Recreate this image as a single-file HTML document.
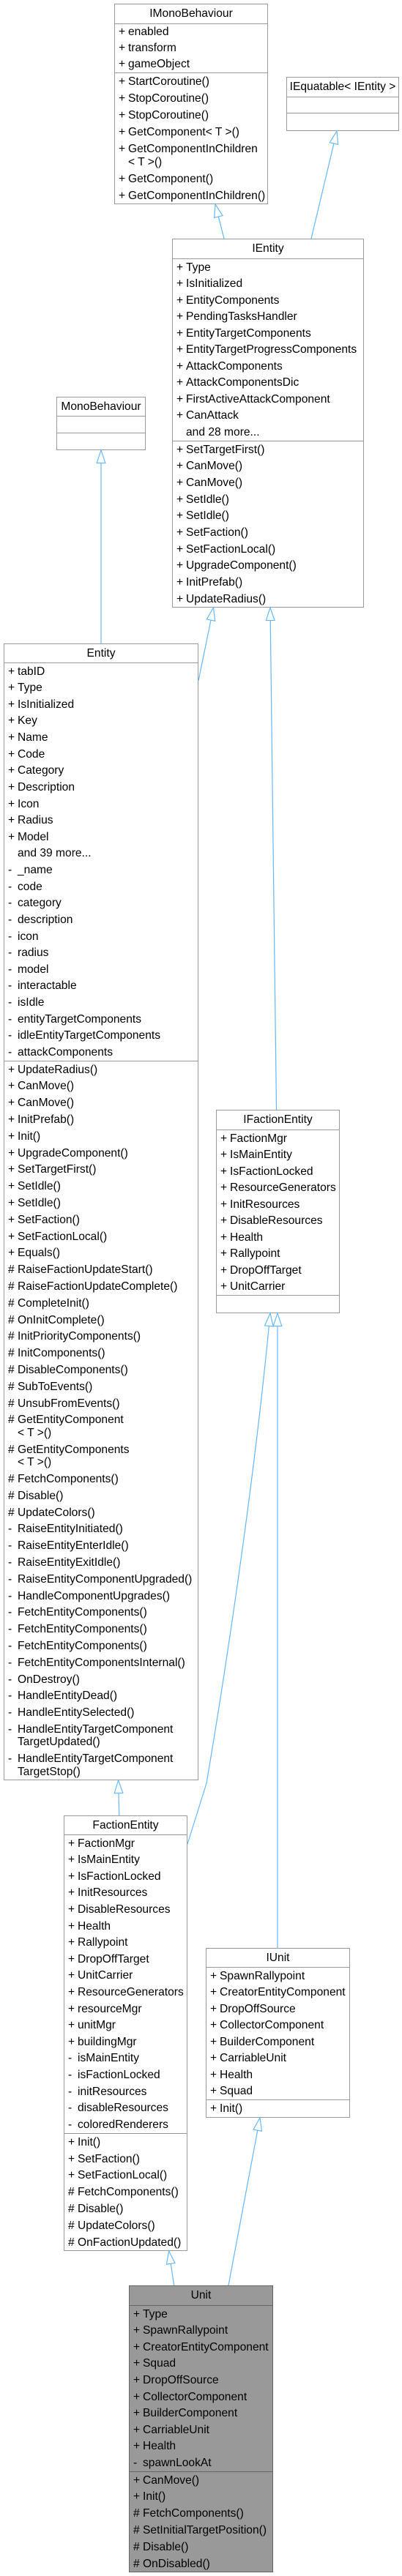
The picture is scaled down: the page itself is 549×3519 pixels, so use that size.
<!DOCTYPE html>
<html><head><meta charset="utf-8"><style>
*{margin:0;padding:0;box-sizing:border-box}
body{width:549px;height:3519px;background:#fff;position:relative;overflow:hidden;font-family:"Liberation Sans",Arial,sans-serif;font-size:15.6px;color:#000}
.box{position:absolute;border:1px solid #999;background:#fff}
.sec{position:absolute;left:0;right:0;display:flex;flex-direction:column;justify-content:space-around}
.sec+.sec{border-top:1px solid #999}
.t{text-align:center;justify-content:center}
.r{position:relative;line-height:17.5px;padding-left:18px;white-space:nowrap}
.r b{position:absolute;left:5px;top:0;font-weight:normal}
.unit{background:#999;border-color:#666}
.unit .sec+.sec{border-top-color:#666}
svg{position:absolute;left:0;top:0}
</style></head><body>

<div class="box" style="left:156px;top:5px;width:210px;height:274px">
<div class="sec t" style="top:0;height:26px">IMonoBehaviour</div>
<div class="sec" style="top:26px;height:67px"><div class="r"><b>+</b>enabled</div><div class="r"><b>+</b>transform</div><div class="r"><b>+</b>gameObject</div></div>
<div class="sec" style="top:93px;height:180px"><div class="r"><b>+</b>StartCoroutine()</div><div class="r"><b>+</b>StopCoroutine()</div><div class="r"><b>+</b>StopCoroutine()</div><div class="r"><b>+</b>GetComponent&lt; T &gt;()</div><div class="r"><b>+</b>GetComponentInChildren<br>&lt; T &gt;()</div><div class="r"><b>+</b>GetComponent()</div><div class="r"><b>+</b>GetComponentInChildren()</div></div>
</div>

<div class="box" style="left:391px;top:105px;width:154px;height:74px">
<div class="sec t" style="top:0;height:26px">IEquatable&lt; IEntity &gt;</div>
<div class="sec" style="top:26px;height:22px"></div>
<div class="sec" style="top:48px;height:25px"></div>
</div>

<div class="box" style="left:235px;top:326px;width:262px;height:504px">
<div class="sec t" style="top:0;height:26px">IEntity</div>
<div class="sec" style="top:26px;height:249px"><div class="r"><b>+</b>Type</div><div class="r"><b>+</b>IsInitialized</div><div class="r"><b>+</b>EntityComponents</div><div class="r"><b>+</b>PendingTasksHandler</div><div class="r"><b>+</b>EntityTargetComponents</div><div class="r"><b>+</b>EntityTargetProgressComponents</div><div class="r"><b>+</b>AttackComponents</div><div class="r"><b>+</b>AttackComponentsDic</div><div class="r"><b>+</b>FirstActiveAttackComponent</div><div class="r"><b>+</b>CanAttack</div><div class="r">and 28 more...</div></div>
<div class="sec" style="top:275px;height:228px"><div class="r"><b>+</b>SetTargetFirst()</div><div class="r"><b>+</b>CanMove()</div><div class="r"><b>+</b>CanMove()</div><div class="r"><b>+</b>SetIdle()</div><div class="r"><b>+</b>SetIdle()</div><div class="r"><b>+</b>SetFaction()</div><div class="r"><b>+</b>SetFactionLocal()</div><div class="r"><b>+</b>UpgradeComponent()</div><div class="r"><b>+</b>InitPrefab()</div><div class="r"><b>+</b>UpdateRadius()</div></div>
</div>

<div class="box" style="left:77px;top:542px;width:122px;height:73px">
<div class="sec t" style="top:0;height:25px">MonoBehaviour</div>
<div class="sec" style="top:25px;height:23px"></div>
<div class="sec" style="top:48px;height:24px"></div>
</div>

<div class="box" style="left:5px;top:879px;width:266px;height:1553px">
<div class="sec t" style="top:0;height:25px">Entity</div>
<div class="sec" style="top:25px;height:544px"><div class="r"><b>+</b>tabID</div><div class="r"><b>+</b>Type</div><div class="r"><b>+</b>IsInitialized</div><div class="r"><b>+</b>Key</div><div class="r"><b>+</b>Name</div><div class="r"><b>+</b>Code</div><div class="r"><b>+</b>Category</div><div class="r"><b>+</b>Description</div><div class="r"><b>+</b>Icon</div><div class="r"><b>+</b>Radius</div><div class="r"><b>+</b>Model</div><div class="r">and 39 more...</div><div class="r"><b>-</b>_name</div><div class="r"><b>-</b>code</div><div class="r"><b>-</b>category</div><div class="r"><b>-</b>description</div><div class="r"><b>-</b>icon</div><div class="r"><b>-</b>radius</div><div class="r"><b>-</b>model</div><div class="r"><b>-</b>interactable</div><div class="r"><b>-</b>isIdle</div><div class="r"><b>-</b>entityTargetComponents</div><div class="r"><b>-</b>idleEntityTargetComponents</div><div class="r"><b>-</b>attackComponents</div></div>
<div class="sec" style="top:569px;height:983px">
<div class="r"><b>+</b>UpdateRadius()</div><div class="r"><b>+</b>CanMove()</div><div class="r"><b>+</b>CanMove()</div><div class="r"><b>+</b>InitPrefab()</div><div class="r"><b>+</b>Init()</div><div class="r"><b>+</b>UpgradeComponent()</div><div class="r"><b>+</b>SetTargetFirst()</div><div class="r"><b>+</b>SetIdle()</div><div class="r"><b>+</b>SetIdle()</div><div class="r"><b>+</b>SetFaction()</div><div class="r"><b>+</b>SetFactionLocal()</div><div class="r"><b>+</b>Equals()</div>
<div class="r"><b>#</b>RaiseFactionUpdateStart()</div><div class="r"><b>#</b>RaiseFactionUpdateComplete()</div><div class="r"><b>#</b>CompleteInit()</div><div class="r"><b>#</b>OnInitComplete()</div><div class="r"><b>#</b>InitPriorityComponents()</div><div class="r"><b>#</b>InitComponents()</div><div class="r"><b>#</b>DisableComponents()</div><div class="r"><b>#</b>SubToEvents()</div><div class="r"><b>#</b>UnsubFromEvents()</div><div class="r"><b>#</b>GetEntityComponent<br>&lt; T &gt;()</div><div class="r"><b>#</b>GetEntityComponents<br>&lt; T &gt;()</div><div class="r"><b>#</b>FetchComponents()</div><div class="r"><b>#</b>Disable()</div><div class="r"><b>#</b>UpdateColors()</div>
<div class="r"><b>-</b>RaiseEntityInitiated()</div><div class="r"><b>-</b>RaiseEntityEnterIdle()</div><div class="r"><b>-</b>RaiseEntityExitIdle()</div><div class="r"><b>-</b>RaiseEntityComponentUpgraded()</div><div class="r"><b>-</b>HandleComponentUpgrades()</div><div class="r"><b>-</b>FetchEntityComponents()</div><div class="r"><b>-</b>FetchEntityComponents()</div><div class="r"><b>-</b>FetchEntityComponents()</div><div class="r"><b>-</b>FetchEntityComponentsInternal()</div><div class="r"><b>-</b>OnDestroy()</div><div class="r"><b>-</b>HandleEntityDead()</div><div class="r"><b>-</b>HandleEntitySelected()</div><div class="r"><b>-</b>HandleEntityTargetComponent<br>TargetUpdated()</div><div class="r"><b>-</b>HandleEntityTargetComponent<br>TargetStop()</div>
</div>
</div>

<div class="box" style="left:295px;top:1516px;width:169px;height:278px">
<div class="sec t" style="top:0;height:26px">IFactionEntity</div>
<div class="sec" style="top:26px;height:226px"><div class="r"><b>+</b>FactionMgr</div><div class="r"><b>+</b>IsMainEntity</div><div class="r"><b>+</b>IsFactionLocked</div><div class="r"><b>+</b>ResourceGenerators</div><div class="r"><b>+</b>InitResources</div><div class="r"><b>+</b>DisableResources</div><div class="r"><b>+</b>Health</div><div class="r"><b>+</b>Rallypoint</div><div class="r"><b>+</b>DropOffTarget</div><div class="r"><b>+</b>UnitCarrier</div></div>
<div class="sec" style="top:252px;height:25px"></div>
</div>

<div class="box" style="left:87px;top:2480px;width:169px;height:595px">
<div class="sec t" style="top:0;height:25px">FactionEntity</div>
<div class="sec" style="top:25px;height:408px"><div class="r"><b>+</b>FactionMgr</div><div class="r"><b>+</b>IsMainEntity</div><div class="r"><b>+</b>IsFactionLocked</div><div class="r"><b>+</b>InitResources</div><div class="r"><b>+</b>DisableResources</div><div class="r"><b>+</b>Health</div><div class="r"><b>+</b>Rallypoint</div><div class="r"><b>+</b>DropOffTarget</div><div class="r"><b>+</b>UnitCarrier</div><div class="r"><b>+</b>ResourceGenerators</div><div class="r"><b>+</b>resourceMgr</div><div class="r"><b>+</b>unitMgr</div><div class="r"><b>+</b>buildingMgr</div><div class="r"><b>-</b>isMainEntity</div><div class="r"><b>-</b>isFactionLocked</div><div class="r"><b>-</b>initResources</div><div class="r"><b>-</b>disableResources</div><div class="r"><b>-</b>coloredRenderers</div></div>
<div class="sec" style="top:433px;height:161px"><div class="r"><b>+</b>Init()</div><div class="r"><b>+</b>SetFaction()</div><div class="r"><b>+</b>SetFactionLocal()</div><div class="r"><b>#</b>FetchComponents()</div><div class="r"><b>#</b>Disable()</div><div class="r"><b>#</b>UpdateColors()</div><div class="r"><b>#</b>OnFactionUpdated()</div></div>
</div>

<div class="box" style="left:281px;top:2661px;width:197px;height:232px">
<div class="sec t" style="top:0;height:25px">IUnit</div>
<div class="sec" style="top:25px;height:181px"><div class="r"><b>+</b>SpawnRallypoint</div><div class="r"><b>+</b>CreatorEntityComponent</div><div class="r"><b>+</b>DropOffSource</div><div class="r"><b>+</b>CollectorComponent</div><div class="r"><b>+</b>BuilderComponent</div><div class="r"><b>+</b>CarriableUnit</div><div class="r"><b>+</b>Health</div><div class="r"><b>+</b>Squad</div></div>
<div class="sec" style="top:206px;height:25px"><div class="r"><b>+</b>Init()</div></div>
</div>

<div class="box unit" style="left:176px;top:3122px;width:197px;height:392px">
<div class="sec t" style="top:0;height:26px">Unit</div>
<div class="sec" style="top:26px;height:227px"><div class="r"><b>+</b>Type</div><div class="r"><b>+</b>SpawnRallypoint</div><div class="r"><b>+</b>CreatorEntityComponent</div><div class="r"><b>+</b>Squad</div><div class="r"><b>+</b>DropOffSource</div><div class="r"><b>+</b>CollectorComponent</div><div class="r"><b>+</b>BuilderComponent</div><div class="r"><b>+</b>CarriableUnit</div><div class="r"><b>+</b>Health</div><div class="r"><b>-</b>spawnLookAt</div></div>
<div class="sec" style="top:253px;height:138px"><div class="r"><b>+</b>CanMove()</div><div class="r"><b>+</b>Init()</div><div class="r"><b>#</b>FetchComponents()</div><div class="r"><b>#</b>SetInitialTargetPosition()</div><div class="r"><b>#</b>Disable()</div><div class="r"><b>#</b>OnDisabled()</div></div>
</div>

<svg width="549" height="3519" viewBox="0 0 549 3519">
<defs><marker id="a" markerUnits="userSpaceOnUse" markerWidth="20" markerHeight="14" viewBox="-1 -1 17 12" refX="15" refY="5" orient="auto" overflow="visible"><path d="M0,0 L15,5 L0,10 Z" fill="#fff" stroke="#63b8ff" stroke-width="1"/></marker></defs>
<g fill="none" stroke="#63b8ff" stroke-width="1.2" marker-end="url(#a)">
<path d="M306,326 L294,279"/>
<path d="M425,326 L460,179"/>
<path d="M138,879 L138,615"/>
<path d="M271,930 L291.5,830"/>
<path d="M377.5,1516 L369,830"/>
<path d="M256,2519 L262,2500 L282,2436 C300,2330 345,2050 369,1794"/>
<path d="M379,2661 L379,1794"/>
<path d="M162.7,2480 L161.6,2432"/>
<path d="M237.7,3122 L230.6,3075"/>
<path d="M312,3122 L355,2893"/>
</g>
</svg>
</body></html>
